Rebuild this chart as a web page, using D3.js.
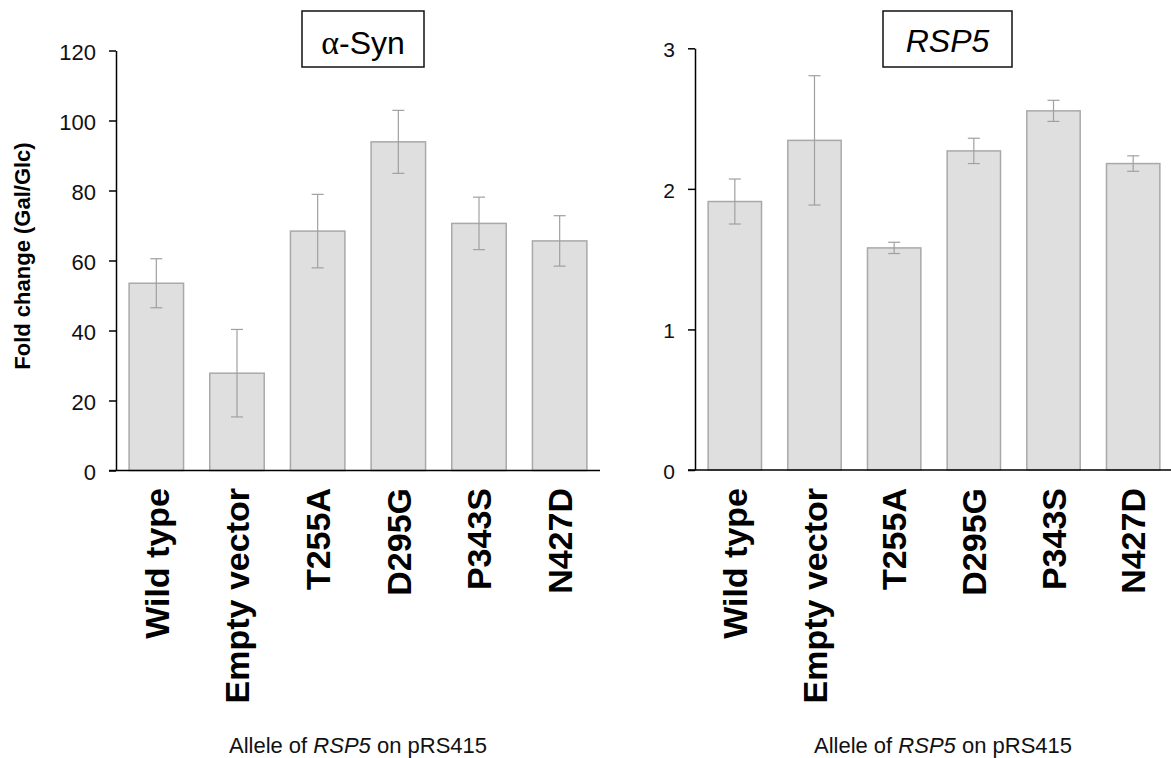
<!DOCTYPE html>
<html>
<head>
<meta charset="utf-8">
<script src="https://cdn.jsdelivr.net/npm/d3@7"></script>
<style>
  body { margin: 0; background: #fff; }
  svg { display: block; font-family: Arial, "Liberation Sans", sans-serif; }
</style>
</head>
<body>
<div id="chart"></div>
<script>
const alleles = ['Wild type', 'Empty vector', 'T255A', 'D295G', 'P343S', 'N427D'];

// alpha-synuclein fold change (Gal/Glc)
const synValues = [53.5, 27.8, 68.4, 93.9, 70.6, 65.6];
const synErrors = [7.0, 12.5, 10.5, 9.0, 7.5, 7.2];
const synTicks = [0, 20, 40, 60, 80, 100, 120];

// RSP5 fold change
const rspValues = [1.91, 2.345, 1.58, 2.27, 2.555, 2.18];
const rspErrors = [0.16, 0.46, 0.04, 0.09, 0.075, 0.055];
const rspTicks = [0, 1, 2, 3];

const width = 1171;
const height = 758;

const svg = d3.select('#chart')
              .append('svg')
              .attr('width', width)
              .attr('height', height);

function drawPanel(p) {
  const data = alleles.map((a, i) => ({ allele: a, value: p.values[i], err: p.errors[i] }));

  const xScale = d3.scaleBand()
                   .domain(alleles)
                   .range([p.left, p.right])
                   .paddingInner(p.pad)
                   .paddingOuter(p.pad / 2);

  const yScale = d3.scaleLinear()
                   .domain([0, d3.max(p.ticks)])
                   .range([p.bottom, p.top]);

  const g = svg.append('g');

  // bars
  g.selectAll('.bar')
   .data(data)
   .enter()
   .append('rect')
   .attr('class', 'bar')
   .attr('x', d => xScale(d.allele))
   .attr('y', d => yScale(d.value))
   .attr('width', xScale.bandwidth())
   .attr('height', d => yScale(0) - yScale(d.value))
   .style('fill', '#dfdfdf')
   .style('stroke', '#a9a9a9')
   .style('stroke-width', 1.5);

  // error bars
  const cx = d => xScale(d.allele) + xScale.bandwidth() / 2;
  const err = g.selectAll('.err')
               .data(data)
               .enter()
               .append('g')
               .attr('class', 'err')
               .style('stroke', '#a0a0a0')
               .style('stroke-width', 1.2);
  err.append('line')
     .attr('x1', cx).attr('x2', cx)
     .attr('y1', d => yScale(d.value + d.err))
     .attr('y2', d => yScale(d.value - d.err));
  err.append('line')
     .attr('x1', d => cx(d) - 6).attr('x2', d => cx(d) + 6)
     .attr('y1', d => yScale(d.value + d.err))
     .attr('y2', d => yScale(d.value + d.err));
  err.append('line')
     .attr('x1', d => cx(d) - 6).attr('x2', d => cx(d) + 6)
     .attr('y1', d => yScale(d.value - d.err))
     .attr('y2', d => yScale(d.value - d.err));

  // y axis
  const yAxis = d3.axisLeft(yScale)
                  .tickValues(p.ticks)
                  .tickFormat(d3.format('d'))
                  .tickSize(7)
                  .tickSizeOuter(0)
                  .tickPadding(13);
  const ya = g.append('g')
              .attr('transform', 'translate(' + p.left + ',0)')
              .call(yAxis);
  ya.select('.domain').style('stroke', '#000').style('stroke-width', 1.5);
  ya.selectAll('.tick line').style('stroke', '#000').style('stroke-width', 1.5);
  ya.selectAll('.tick text')
    .attr('dy', '0.4em')
    .style('font-size', p.tickFont + 'px')
    .style('font-family', 'Arial, "Liberation Sans", sans-serif')
    .style('fill', '#111');

  // x baseline
  g.append('line')
   .attr('x1', p.left - 7)
   .attr('x2', p.right)
   .attr('y1', yScale(0))
   .attr('y2', yScale(0))
   .style('stroke', '#000')
   .style('stroke-width', 1.5);

  // category labels
  g.selectAll('.cat')
   .data(alleles)
   .enter()
   .append('text')
   .attr('class', 'cat')
   .attr('transform', d => 'translate(' + (xScale(d) + xScale.bandwidth() / 2) + ',488) rotate(-90)')
   .attr('dy', '0.36em')
   .attr('text-anchor', 'end')
   .style('font-size', '34px')
   .style('font-weight', 'bold')
   .text(d => d);

  // title box
  const t = g.append('g');
  t.append('rect')
   .attr('x', p.box[0]).attr('y', 11)
   .attr('width', p.box[1] - p.box[0]).attr('height', 56)
   .style('fill', '#fff')
   .style('stroke', '#111')
   .style('stroke-width', 1.5);
  const title = t.append('text')
                 .attr('x', (p.box[0] + p.box[1]) / 2)
                 .attr('y', p.titleY)
                 .attr('text-anchor', 'middle')
                 .style('font-size', '32px');
  p.title(title);

  // x axis title
  const xt = g.append('text')
              .attr('x', p.xTitleX)
              .attr('y', 753)
              .attr('text-anchor', 'middle')
              .style('font-size', '22px')
              .style('fill', '#111');
  xt.append('tspan').text('Allele of ');
  xt.append('tspan').style('font-style', 'italic').text('RSP5');
  xt.append('tspan').text(' on pRS415');
}

drawPanel({
  values: synValues, errors: synErrors, ticks: synTicks,
  left: 116, right: 600, top: 50.5, bottom: 470.5, pad: 0.325,
  tickFont: 22, box: [302, 424], titleY: 53.5, xTitleX: 358,
  title: sel => {
    sel.append('tspan').style('font-family', '"Liberation Serif", "DejaVu Serif", serif').style('font-size', '34px').text('α');
    sel.append('tspan').text('-Syn');
  }
});

drawPanel({
  values: rspValues, errors: rspErrors, ticks: rspTicks,
  left: 695, right: 1173, top: 48.3, bottom: 470, pad: 0.33,
  tickFont: 21, box: [883, 1012], titleY: 52, xTitleX: 943,
  title: sel => {
    sel.append('tspan').style('font-style', 'italic').text('RSP5');
  }
});

// y axis title
svg.append('text')
   .attr('transform', 'translate(30,256) rotate(-90)')
   .attr('text-anchor', 'middle')
   .style('font-size', '22px')
   .style('font-weight', 'bold')
   .text('Fold change (Gal/Glc)');
</script>
</body>
</html>
